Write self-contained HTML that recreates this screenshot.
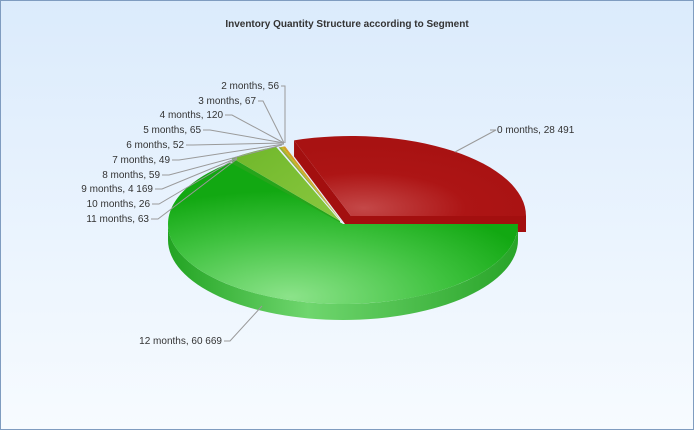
<!DOCTYPE html>
<html><head><meta charset="utf-8"><style>
html,body{margin:0;padding:0;}
body{width:694px;height:430px;overflow:hidden;}
</style></head><body>
<svg id="s" width="694" height="430" xmlns="http://www.w3.org/2000/svg" font-family="Liberation Sans, sans-serif">
<defs>
<linearGradient id="bg" x1="0" y1="0" x2="0" y2="1"><stop offset="0" stop-color="#dbebfc"/><stop offset="1" stop-color="#f7fbff"/></linearGradient>
<radialGradient id="gtop" cx="0.35" cy="0.95" r="0.75"><stop offset="0" stop-color="#8ce38a"/><stop offset="0.6" stop-color="#3fc23f"/><stop offset="1" stop-color="#12a812"/></radialGradient>
<linearGradient id="gside" x1="0" y1="0" x2="1" y2="0"><stop offset="0" stop-color="#22a322"/><stop offset="0.4" stop-color="#6fd66e"/><stop offset="1" stop-color="#28a428"/></linearGradient>
<radialGradient id="rtop" cx="0.3" cy="0.9" r="0.8"><stop offset="0" stop-color="#c44848"/><stop offset="0.55" stop-color="#ad1515"/><stop offset="1" stop-color="#a81212"/></radialGradient>
<linearGradient id="lg" x1="0" y1="0" x2="1" y2="1"><stop offset="0" stop-color="#6fb72a"/><stop offset="1" stop-color="#8ac840"/></linearGradient>
</defs>
<rect x="0.5" y="0.5" width="693" height="429" fill="url(#bg)" stroke="#7f9cc0"/>
<text x="347" y="27" text-anchor="middle" font-size="10" font-weight="bold" fill="#333">Inventory Quantity Structure according to Segment</text>
<g id="pie"></g>
<g stroke="#9a9a9a" fill="none" stroke-width="1">
<polyline points="281,86 285,86 285,143"/>
<polyline points="258,101 263,101 284,143"/>
<polyline points="225,115 232,115 284,143"/>
<polyline points="203,130 210,130 284,143"/>
<polyline points="186,145 193,145 284,143"/>
<polyline points="172,160 179,160 284,144"/>
<polyline points="162,175 169,175 282,145"/>
<polyline points="155,189 162,189 237,158"/>
<polyline points="152,204 159,204 237,158"/>
<polyline points="151,219 158,219 237,159"/>
<polyline points="490,130 496,130 455,152"/>
<polyline points="224,341 230,341 262,306"/>
</g>
<g font-size="10" fill="#333" text-anchor="end">
<text x="279" y="89">2 months, 56</text>
<text x="256" y="104">3 months, 67</text>
<text x="223" y="118">4 months, 120</text>
<text x="201" y="133">5 months, 65</text>
<text x="184" y="148">6 months, 52</text>
<text x="170" y="163">7 months, 49</text>
<text x="160" y="178">8 months, 59</text>
<text x="153" y="192">9 months, 4 169</text>
<text x="150" y="207">10 months, 26</text>
<text x="149" y="222">11 months, 63</text>
<text x="222" y="344">12 months, 60 669</text>
<text x="497" y="133" text-anchor="start">0 months, 28 491</text>
</g>
</svg>
<script>
(function(){
var cx=343,cy=224,rx=175,ry=80,d=16,g=document.getElementById('pie');
function P(a,ox,oy){var r=a*Math.PI/180;return [cx+ox+rx*Math.cos(r),cy+oy-ry*Math.sin(r)];}
function path(s,f,st){var p=document.createElementNS('http://www.w3.org/2000/svg','path');p.setAttribute('d',s);p.setAttribute('fill',f);if(st){p.setAttribute('stroke',st);p.setAttribute('stroke-width','0.5');}g.appendChild(p);}
function arc(a1,a2,ox,oy){var s=P(a1,ox,oy),e=P(a2,ox,oy);var lg=(a2-a1)>180?1:0;return [s,e,lg];}
function top(a1,a2,ox,oy,f){var r=arc(a1,a2,ox,oy);path('M'+(cx+ox)+','+(cy+oy)+'L'+r[0]+'A'+rx+','+ry+' 0 '+r[2]+' 0 '+r[1]+'Z',f);}
function side(a1,a2,ox,oy,f){a1=Math.max(a1,180);if(a2<=a1)return;var s=P(a1,ox,oy),e=P(a2,ox,oy);var lg=(a2-a1)>180?1:0;
path('M'+s+'A'+rx+','+ry+' 0 '+lg+' 0 '+e+'L'+e[0]+','+(e[1]+d)+'A'+rx+','+ry+' 0 '+lg+' 1 '+s[0]+','+(s[1]+d)+'Z',f);}
function cut(a,ox,oy,f){var p=P(a,ox,oy);path('M'+(cx+ox)+','+(cy+oy)+'L'+p+'L'+p[0]+','+(p[1]+d)+'L'+(cx+ox)+','+(cy+oy+d)+'Z',f);}
// red 0..109 exploded
var ro=[8,-8];
cut(0,ro[0],ro[1],'#a30f0f');cut(109,ro[0],ro[1],'#a30f0f');
top(0,109,ro[0],ro[1],'url(#rtop)');
// small slices
var sm=[[109,109.3,'#e08a10'],[109.3,109.8,'#c8a018'],[109.8,110.3,'#d0b020'],[110.3,110.7,'#a0b020'],[110.7,111.2,'#90a828']];
// light green 111.5..128
var lo=[-3,-3];
cut(128,lo[0],lo[1],'#27a51b');
top(111.5,128,lo[0],lo[1],'url(#lg)');
sm.forEach(function(s){top(s[0],s[1],-1,-2,s[2]);});
// big green 130..360
side(130,360,0,0,'url(#gside)');
cut(130,0,0,'#2aa81e');
top(130,360,0,0,'url(#gtop)');
})();
</script>
</body></html>
